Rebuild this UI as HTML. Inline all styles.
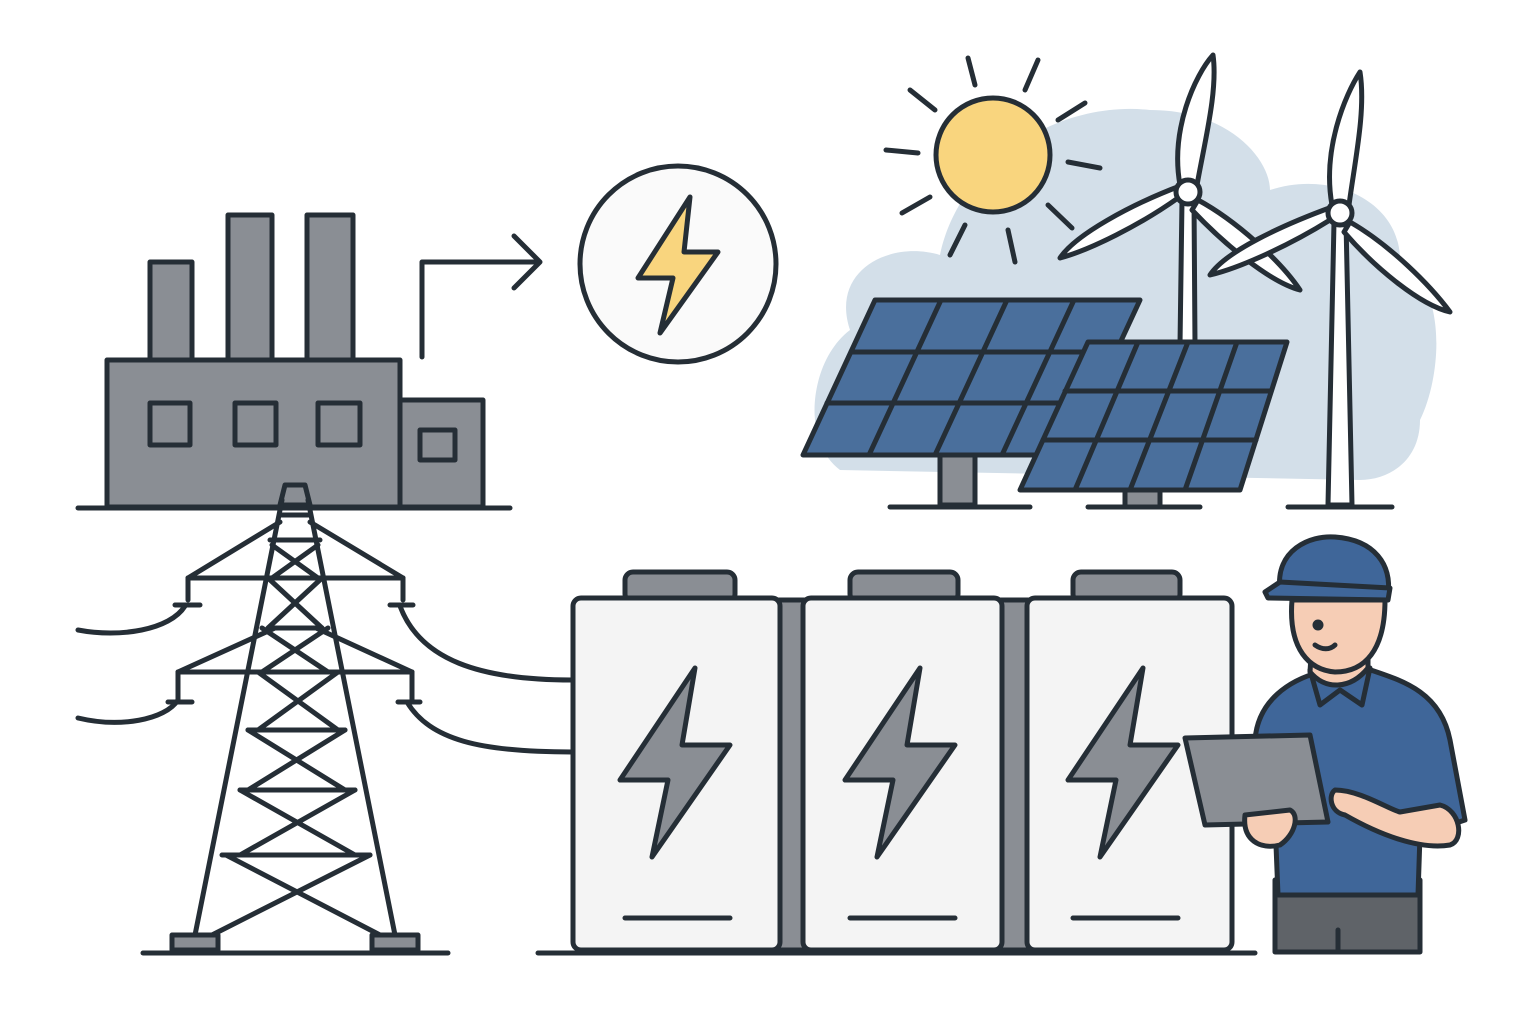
<!DOCTYPE html>
<html><head><meta charset="utf-8"><style>html,body{margin:0;padding:0;background:#fff}svg{display:block}</style></head>
<body>
<svg width="1536" height="1024" viewBox="0 0 1536 1024" xmlns="http://www.w3.org/2000/svg" fill="none" stroke="#252e36" stroke-width="5" stroke-linejoin="round" stroke-linecap="round">
<rect width="1536" height="1024" fill="#fff" stroke="none"/>
<path d="M840,470 C800,440 810,360 850,330 C830,270 890,240 940,255 C960,160 1060,100 1150,110 C1230,110 1270,160 1270,190 C1330,170 1400,200 1400,260 C1450,290 1440,380 1420,420 C1420,460 1390,480 1360,480 Z" fill="#d3dfe9" stroke="none"/>
<g>
<line x1="968" y1="58" x2="975" y2="85"/><line x1="1038" y1="60" x2="1025" y2="90"/>
<line x1="910" y1="90" x2="935" y2="110"/><line x1="1085" y1="103" x2="1058" y2="120"/>
<line x1="886" y1="150" x2="918" y2="153"/><line x1="1068" y1="162" x2="1100" y2="168"/>
<line x1="902" y1="213" x2="930" y2="197"/><line x1="1048" y1="205" x2="1072" y2="228"/>
<line x1="965" y1="225" x2="950" y2="255"/><line x1="1008" y1="230" x2="1015" y2="262"/>
<circle cx="993" cy="155" r="57" fill="#f9d57e"/>
</g>
<g fill="#fff">
<polygon points="1182,200 1194,200 1196,490 1178,490"/>
<path d="M1180,185 C1170,130 1195,75 1213,55 C1218,90 1205,140 1197,185 Z"/>
<path d="M1178,198 C1140,225 1090,250 1060,258 C1075,235 1130,205 1180,186 Z"/>
<path d="M1198,200 C1235,220 1280,260 1300,290 C1270,282 1225,245 1192,210 Z"/>
<circle cx="1188" cy="192" r="12"/>
</g>
<g fill="#fff">
<polygon points="1334,222 1346,222 1352,505 1328,505"/>
<path d="M1332,205 C1322,150 1345,95 1360,72 C1366,110 1355,160 1349,205 Z"/>
<path d="M1330,220 C1290,245 1240,268 1210,275 C1225,252 1280,226 1332,207 Z"/>
<path d="M1350,222 C1390,245 1430,285 1450,312 C1420,305 1375,268 1344,232 Z"/>
<circle cx="1340" cy="213" r="12"/>
</g>
<line x1="1288" y1="507" x2="1392" y2="507"/>
<rect x="940" y="455" width="35" height="50" fill="#8a8e94"/>
<line x1="890" y1="507" x2="1030" y2="507"/>
<polygon points="875,300 1140,300 1068,455 803,455" fill="#4a6f9c"/>
<g>
<line x1="941" y1="300" x2="869" y2="455"/><line x1="1007" y1="300" x2="935" y2="455"/><line x1="1074" y1="300" x2="1002" y2="455"/>
<line x1="851" y1="352" x2="1116" y2="352"/><line x1="827" y1="403" x2="1092" y2="403"/>
</g>
<rect x="1125" y="490" width="35" height="17" fill="#8a8e94"/>
<line x1="1088" y1="507" x2="1200" y2="507"/>
<polygon points="1088,342 1287,342 1240,490 1020,490" fill="#4a6f9c"/>
<g>
<line x1="1138" y1="342" x2="1075" y2="490"/><line x1="1188" y1="342" x2="1130" y2="490"/><line x1="1237" y1="342" x2="1185" y2="490"/>
<line x1="1065" y1="391" x2="1271" y2="391"/><line x1="1043" y1="440" x2="1256" y2="440"/>
</g>
<g fill="#8a8e94">
<rect x="150" y="262" width="42" height="100"/>
<rect x="228" y="215" width="44" height="147"/>
<rect x="307" y="215" width="46" height="147"/>
<rect x="107" y="360" width="293" height="147"/>
<rect x="400" y="400" width="83" height="107"/>
<rect x="150" y="403" width="40" height="42"/><rect x="235" y="403" width="41" height="42"/><rect x="318" y="403" width="42" height="42"/>
<rect x="420" y="430" width="35" height="30"/>
</g>
<line x1="78" y1="508" x2="510" y2="508"/>
<path d="M422,357 V262 H540 M514,236 L540,262 L514,288"/>
<circle cx="678" cy="264" r="98" fill="#fafafa"/>
<polygon points="690,197 638,278 673,278 660,333 718,252 684,252" fill="#f9d57e"/>
<path d="M185,606 C170,630 120,638 78,630"/>
<path d="M178,700 C165,720 120,728 78,718"/>
<path d="M400,606 C420,660 480,680 572,680"/>
<path d="M407,702 C430,740 480,752 572,752"/>
<g>
<rect x="172" y="935" width="46" height="15" fill="#8a8e94"/>
<rect x="372" y="935" width="46" height="15" fill="#8a8e94"/>
<polygon points="285,485 305,485 310,505 280,505" fill="#8a8e94"/>
<path d="M282,500 L195,935 M308,500 L395,935"/>
<path d="M280,515 L310,515 M270,540 L320,540 M188,578 L403,578 M178,672 L412,672"/>
<path d="M188,578 L280,522 M403,578 L310,522 M178,672 L275,628 M412,672 L316,628"/>
<path d="M188,578 V600 M403,578 V600 M178,672 V700 M412,672 V700 M175,605 H200 M390,605 H413 M168,702 H192 M398,702 H420"/>
<path d="M272,545 L318,578 M318,545 L272,578 M268,578 L322,628 M322,578 L268,628 M262,628 L328,672 M328,628 L262,672"/>
<path d="M258,672 L338,730 M338,672 L258,730 M248,730 L345,790 M345,730 L248,790 M240,790 L355,855 M355,790 L240,855 M226,855 L380,935 M370,855 L212,935"/>
<path d="M270,628 H322 M248,730 H345 M240,790 H355 M222,855 H370"/>
</g>
<line x1="143" y1="953" x2="448" y2="953"/>
<g>
<rect x="625" y="572" width="110" height="30" rx="8" fill="#8a8e94"/>
<rect x="850" y="572" width="108" height="30" rx="8" fill="#8a8e94"/>
<rect x="1073" y="572" width="107" height="30" rx="8" fill="#8a8e94"/>
<rect x="775" y="600" width="32" height="350" fill="#8a8e94"/>
<rect x="1000" y="600" width="30" height="350" fill="#8a8e94"/>
<rect x="573" y="598" width="207" height="352" rx="8" fill="#f4f4f4"/>
<rect x="803" y="598" width="199" height="352" rx="8" fill="#f4f4f4"/>
<rect x="1027" y="598" width="205" height="352" rx="8" fill="#f4f4f4"/>
<polygon points="695,668 620,780 668,780 652,857 730,745 682,745" fill="#8a8e94"/>
<polygon points="920,668 845,780 893,780 877,857 955,745 907,745" fill="#8a8e94"/>
<polygon points="1143,668 1068,780 1116,780 1100,857 1178,745 1130,745" fill="#8a8e94"/>
<path d="M625,918 H730 M850,918 H955 M1073,918 H1178"/>
</g>
<line x1="538" y1="953" x2="1255" y2="953"/>
<g>
<rect x="1275" y="880" width="145" height="72" fill="#5f6368"/>
<line x1="1338" y1="930" x2="1338" y2="952"/>
<path d="M1255,740 C1258,700 1290,680 1320,672 L1365,668 C1400,680 1440,690 1450,740 L1465,820 L1420,835 L1418,895 L1278,895 L1275,820 Z" fill="#3f6699"/>
<path d="M1310,670 L1320,705 L1340,690 L1362,705 L1370,668 Z" fill="#3f6699"/>
<path d="M1312,640 L1310,672 C1325,690 1350,690 1368,668 L1368,640 Z" fill="#f6cdb5"/>
<path d="M1292,600 C1288,650 1310,670 1335,672 C1365,672 1385,650 1385,600 Z" fill="#f6cdb5"/>
<circle cx="1318" cy="625" r="3" fill="#252e36"/>
<path d="M1315,645 C1322,650 1330,650 1335,645"/>
<path d="M1280,590 C1275,550 1310,535 1335,537 C1375,540 1392,565 1388,595 Z" fill="#3f6699"/>
<path d="M1265,592 L1280,582 L1390,588 L1388,600 L1268,598 Z" fill="#3f6699"/>
<path d="M1185,738 L1310,735 L1328,822 L1205,825 Z" fill="#8a8e94"/>
<path d="M1335,790 C1360,790 1390,810 1400,812 L1440,805 C1460,810 1465,840 1450,845 C1420,850 1380,835 1345,815 C1330,812 1328,795 1335,790 Z" fill="#f6cdb5"/>
<path d="M1245,815 C1242,840 1260,850 1280,845 C1295,835 1300,815 1290,810 Z" fill="#f6cdb5"/>
</g>
</svg>
</body></html>
